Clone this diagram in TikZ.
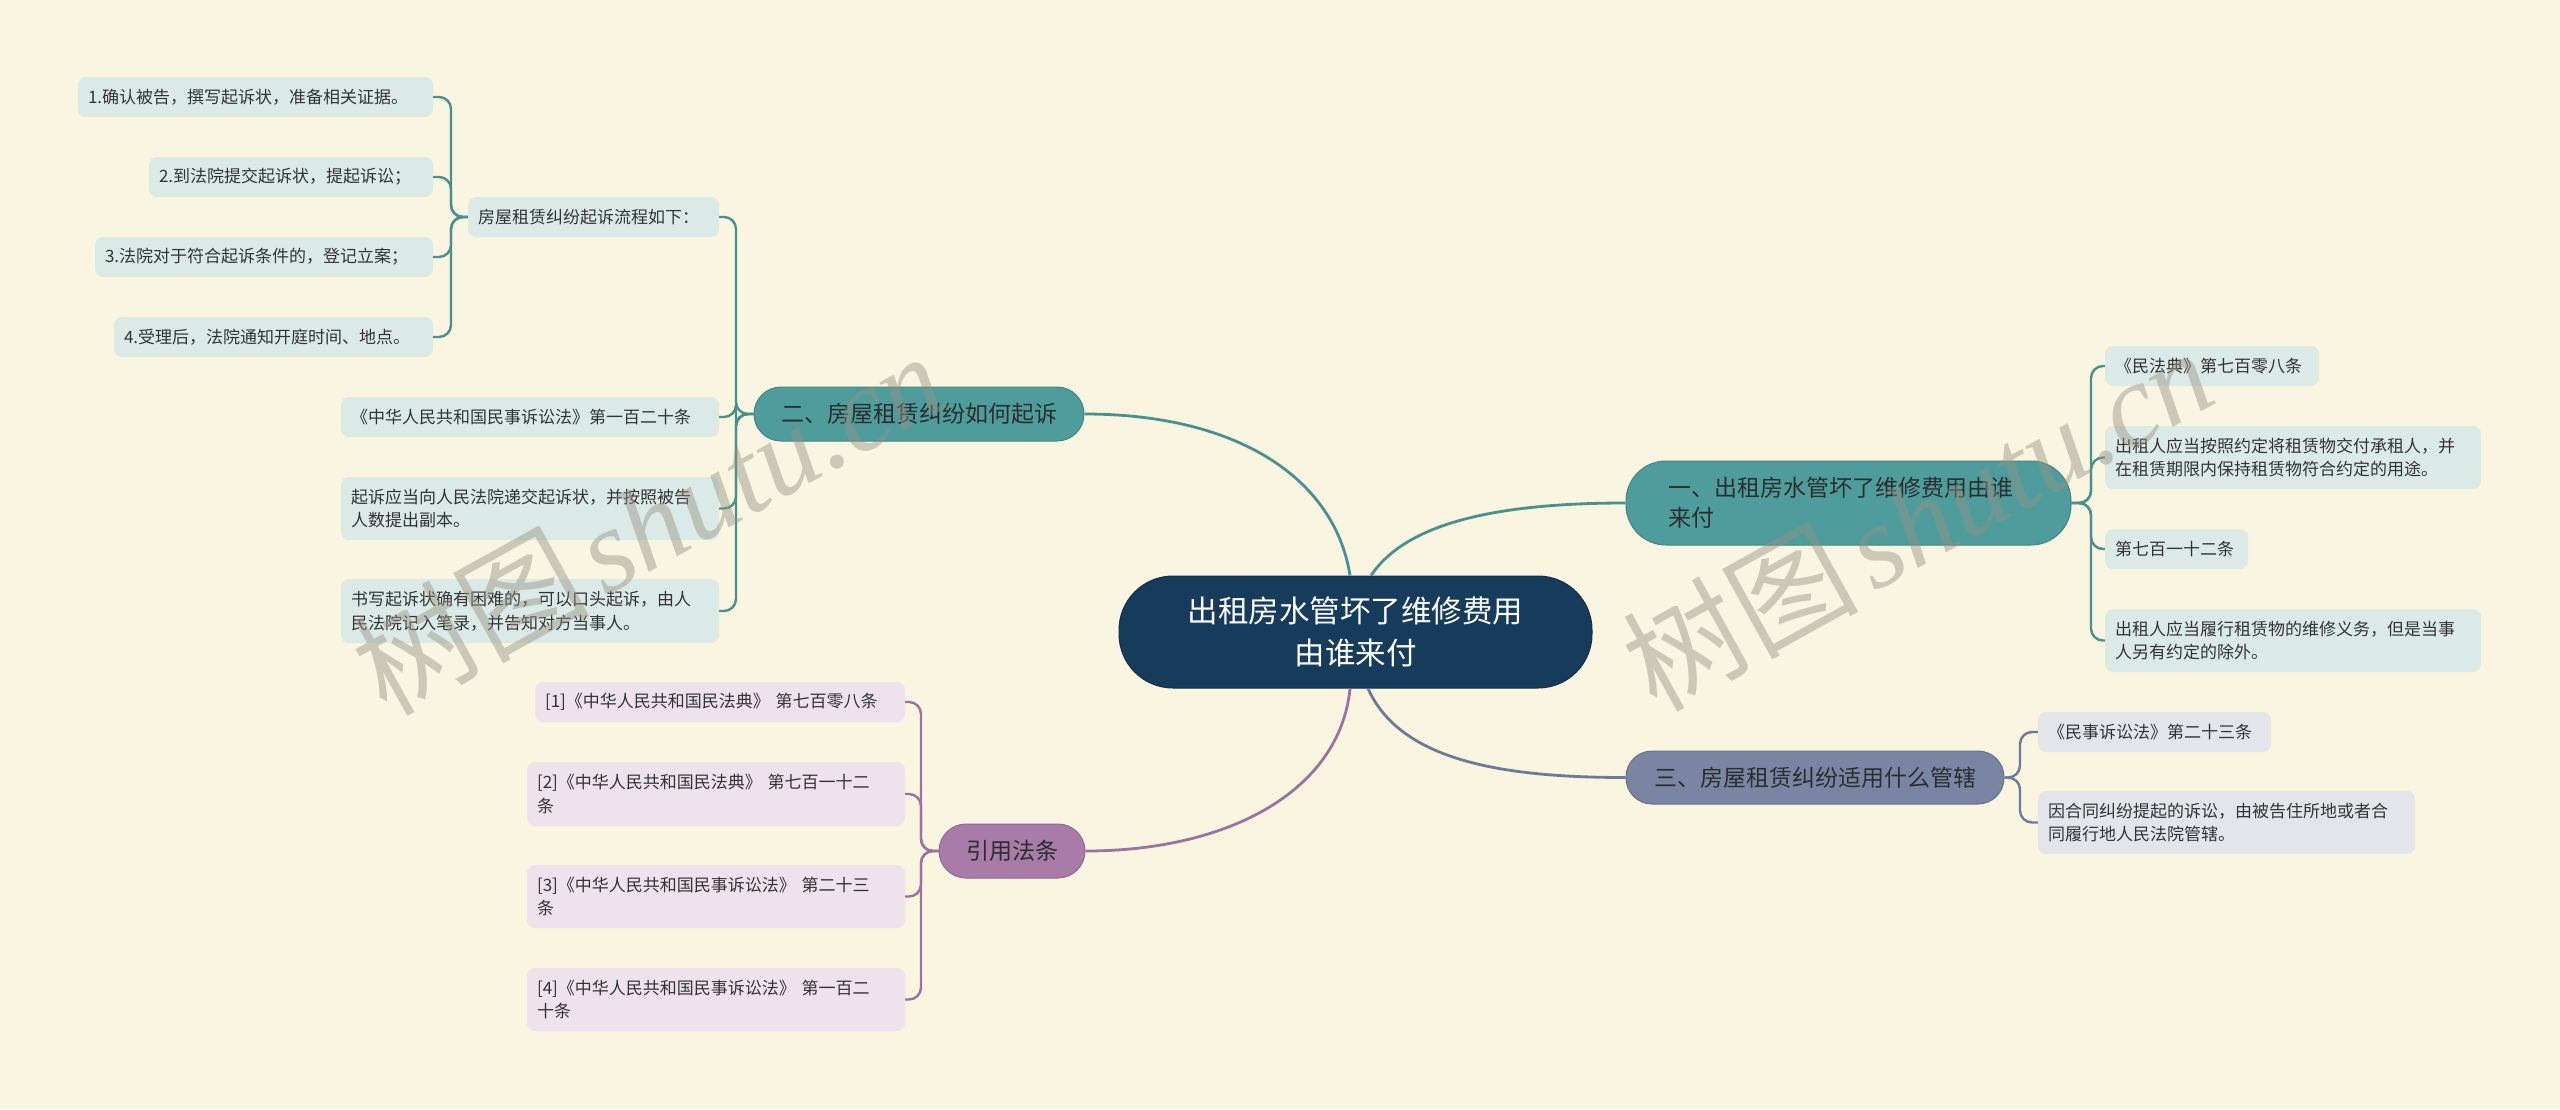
\documentclass[tikz,border=0pt]{standalone}
\usepackage{fontspec}
\setmainfont{Noto Sans CJK SC}
\newfontfamily\wmcjk{Noto Sans CJK SC}
\newfontfamily\wmlat{Liberation Serif}
\definecolor{bg}{HTML}{FAF5E0}
\definecolor{cfill}{HTML}{163B5B}
\definecolor{tfill}{HTML}{4F9C9C}
\definecolor{tline}{HTML}{4A9090}
\definecolor{tleaf}{HTML}{DCEAE7}
\definecolor{pfill}{HTML}{A97BA8}
\definecolor{pline}{HTML}{9C72A0}
\definecolor{pleaf}{HTML}{EEE3EC}
\definecolor{sfill}{HTML}{7A85A3}
\definecolor{sline}{HTML}{6E7A98}
\definecolor{sleaf}{HTML}{E4E5EB}
\definecolor{txt}{HTML}{333333}
\definecolor{btxt}{HTML}{2A2E30}
\definecolor{wm}{RGB}{150,146,132}
\begin{document}
\begin{tikzpicture}[x=1pt,y=-1pt,
  leaf/.style={rectangle, rounded corners=8pt, inner xsep=10pt, inner ysep=0pt, align=left,
    font=\fontsize{17}{23.5}\selectfont, text=txt, anchor=center},
  branch/.style={rectangle, inner xsep=0pt, inner ysep=0pt, align=center,
    font=\fontsize{23}{30}\selectfont, text=btxt, anchor=center},
  mainline/.style={line width=2.8pt},
  brk/.style={line width=2.4pt, rounded corners=12pt},
  wmark/.style={text=wm, opacity=0.45, rotate=29, anchor=center, inner sep=0pt}
]
\useasboundingbox (0,0) rectangle (2560,1109);
\fill[bg] (0,0) rectangle (2560,1109);

% central node
\node[rectangle, rounded corners=54pt, fill=cfill, draw=cfill!80!black, line width=1pt,
  minimum width=473pt, minimum height=112pt, text=white, align=center,
  font=\fontsize{30.5}{42}\selectfont] (C) at (1355.5,632) {出租房水管坏了维修费用\\由谁来付};

% main branches
\node[branch, rounded corners=27pt, fill=tfill, draw=tfill!85!black, line width=1pt,
  minimum width=330pt, minimum height=54pt] (B2) at (919,414) {二、房屋租赁纠纷如何起诉};
\node[branch, rounded corners=40pt, fill=tfill, draw=tfill!85!black, line width=1pt,
  minimum width=445pt, minimum height=84pt, text width=361pt, inner xsep=42pt, align=left] (B1) at (1848.5,503) {一、出租房水管坏了维修费用由谁\\来付};
\node[branch, rounded corners=26pt, fill=sfill, draw=sfill!85!black, line width=1pt,
  minimum width=378pt, minimum height=53pt] (B3) at (1815,777.5) {三、房屋租赁纠纷适用什么管辖};
\node[branch, rounded corners=27pt, fill=pfill, draw=pfill!85!black, line width=1pt,
  minimum width=146pt, minimum height=54pt] (B4) at (1012,851) {引用法条};

% teal leaves of B2
\node[leaf, fill=tleaf, minimum width=251pt, minimum height=40pt, text width=231pt] (LF) at (593.5,217) {房屋租赁纠纷起诉流程如下：};
\node[leaf, fill=tleaf, minimum width=378pt, minimum height=40pt, text width=358pt] (LA) at (530,417) {《中华人民共和国民事诉讼法》第一百二十条};
\node[leaf, fill=tleaf, minimum width=378pt, minimum height=63pt, text width=358pt] (LB) at (530,508.5) {起诉应当向人民法院递交起诉状，并按照被告\\人数提出副本。};
\node[leaf, fill=tleaf, minimum width=378pt, minimum height=64pt, text width=358pt] (LC) at (530,611) {书写起诉状确有困难的，可以口头起诉，由人\\民法院记入笔录，并告知对方当事人。};

% leaves of LF
\node[leaf, fill=tleaf, minimum width=355pt, minimum height=40pt, text width=335pt] (S1) at (255.5,97) {1.确认被告，撰写起诉状，准备相关证据。};
\node[leaf, fill=tleaf, minimum width=284pt, minimum height=40pt, text width=264pt] (S2) at (291,177) {2.到法院提交起诉状，提起诉讼；};
\node[leaf, fill=tleaf, minimum width=338pt, minimum height=40pt, text width=318pt] (S3) at (264,257) {3.法院对于符合起诉条件的，登记立案；};
\node[leaf, fill=tleaf, minimum width=319pt, minimum height=40pt, text width=299pt] (S4) at (273.5,337) {4.受理后，法院通知开庭时间、地点。};

% leaves of B1
\node[leaf, fill=tleaf, minimum width=214pt, minimum height=40pt, text width=194pt] (R1) at (2212,366) {《民法典》第七百零八条};
\node[leaf, fill=tleaf, minimum width=376pt, minimum height=63pt, text width=356pt] (R2) at (2293,457.5) {出租人应当按照约定将租赁物交付承租人，并\\在租赁期限内保持租赁物符合约定的用途。};
\node[leaf, fill=tleaf, minimum width=143pt, minimum height=40pt, text width=123pt] (R3) at (2176.5,549) {第七百一十二条};
\node[leaf, fill=tleaf, minimum width=376pt, minimum height=63pt, text width=356pt] (R4) at (2293,640.5) {出租人应当履行租赁物的维修义务，但是当事\\人另有约定的除外。};

% leaves of B3
\node[leaf, fill=sleaf, minimum width=233pt, minimum height=40pt, text width=213pt] (T1) at (2154.5,732) {《民事诉讼法》第二十三条};
\node[leaf, fill=sleaf, minimum width=377pt, minimum height=63pt, text width=357pt] (T2) at (2226.5,822.5) {因合同纠纷提起的诉讼，由被告住所地或者合\\同履行地人民法院管辖。};

% leaves of B4
\node[leaf, fill=pleaf, minimum width=370pt, minimum height=40pt, text width=350pt] (P1) at (720,702) {[1]《中华人民共和国民法典》 第七百零八条};
\node[leaf, fill=pleaf, minimum width=378pt, minimum height=64pt, text width=358pt] (P2) at (716,794) {[2]《中华人民共和国民法典》 第七百一十二\\条};
\node[leaf, fill=pleaf, minimum width=378pt, minimum height=63pt, text width=358pt] (P3) at (716,896.5) {[3]《中华人民共和国民事诉讼法》 第二十三\\条};
\node[leaf, fill=pleaf, minimum width=378pt, minimum height=63pt, text width=358pt] (P4) at (716,999.5) {[4]《中华人民共和国民事诉讼法》 第一百二\\十条};

% central connectors
\draw[mainline, tline] ([xshift=-5.5pt]C.north) .. controls (1335,480) and (1240,414) .. (B2.east);
\draw[mainline, tline] ([xshift=15.5pt]C.north) .. controls (1405,525) and (1490,503) .. (B1.west);
\draw[mainline, pline] ([xshift=-5.5pt]C.south) .. controls (1340,790) and (1230,851) .. (B4.east);
\draw[mainline, sline] ([xshift=12.5pt]C.south) .. controls (1400,760) and (1500,777.5) .. (B3.west);

% brackets
\coordinate (k2) at (736,414);
\coordinate (kf) at (451,217);
\coordinate (k1) at (2091,503);
\coordinate (k3) at (2020,777.5);
\coordinate (k4) at (921,851);
\foreach \n in {LF,LA,LB,LC}{
  \draw[brk, tline] (B2.west) -- (k2) |- (\n.east);
}
\foreach \n in {S1,S2,S3,S4}{
  \draw[brk, tline] (LF.west) -- (kf) |- (\n.east);
}
\foreach \n in {R1,R2,R3,R4}{
  \draw[brk, tline] (B1.east) -- (k1) |- (\n.west);
}
\foreach \n in {T1,T2}{
  \draw[brk, sline] (B3.east) -- (k3) |- (\n.west);
}
\foreach \n in {P1,P2,P3,P4}{
  \draw[brk, pline] (B4.west) -- (k4) |- (\n.east);
}

% watermarks
\node[wmark] (W1) at (648,522) {\wmcjk\fontsize{118}{118}\selectfont 树图\hspace{14pt}\wmlat\itshape shutu.cn};
\node[wmark] (W2) at (1917,518) {\wmcjk\fontsize{118}{118}\selectfont 树图\hspace{14pt}\wmlat\itshape shutu.cn};
\end{tikzpicture}
\end{document}
